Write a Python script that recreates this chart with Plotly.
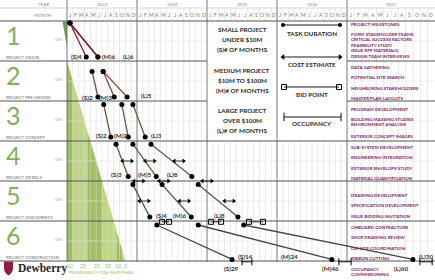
import plotly.graph_objects as go

# ---------------- data ----------------
years = ["2023", "2024", "2025", "2026", "2027"]
month_letters = ["J", "F", "M", "A", "M", "J", "J", "A", "S", "O", "N", "D"]
phase_numbers = ["1", "2", "3", "4", "5", "6"]
phase_names = ["PROJECT VISION", "PROJECT PRE-DESIGN", "PROJECT CONCEPT",
               "PROJECT DETAILS", "PROJECT DOCUMENTS", "PROJECT CONSTRUCTION"]
fee_pct = [10, 25, 25, 25, 10, 5]

# month positions (months after Jan 2023) of each phase start / end dot
small_start = [0.5, 4.3, 6.3, 8.4, 11.3, 15.4]
small_end = [3.3, 5.3, 7.5, 10.5, 14.2, 28.3]
medium_start = [0.5, 6.2, 9.4, 11.3, 16.3, 22.5]
medium_end = [5.3, 8.1, 10.5, 15.3, 21.3, 45.4]
large_start = [0.5, 6.2, 11.3, 14.4, 22.5, 30.3]
large_end = [5.3, 10.3, 13.4, 21.4, 29.3, 59.3]

small_months = [4, 2, 2, 3, 4, 14]
medium_months = [6, 3, 2, 5, 6, 24]
large_months = [6, 5, 3, 8, 8, 30]

cost_p4_mid = [10.3, 14.2, 19.2]
cost_p5_top = [12.3, 16.6, 24.0]
cost_p5_mid = [13.2, 20.1, 27.8]
bid_small = [16.3, 17.5]
bid_medium = [24.7, 26.4]
bid_large = [31.2, 33.6]
occ_small = [30.0, 31.7]
occ_medium = [46.6, 48.7]
occ_large = [60.5, 62.6]

milestones = [
    ["PROJECT MILESTONES:", "FORM STAKEHOLDER TEAMS", "CRITICAL SUCCESS FACTORS",
     "FEASIBILITY STUDY", "ISSUE RFP MATERIALS", "DESIGN TEAM INTERVIEWS"],
    ["DATA GATHERING", "POTENTIAL SITE SEARCH", "NEIGHBORING STAKEHOLDERS", "MASTER PLAN LAYOUTS"],
    ["PROGRAM DEVELOPMENT", "BUILDING MASSING STUDIES", "ENVIRONMENT ANALYSIS", "EXTERIOR CONCEPT IMAGES"],
    ["SUB-SYSTEM DEVELOPMENT", "ENGINEERING INTEGRATION", "EXTERIOR ENVELOPE STUDY", "MATERIAL QUANTIFICATION"],
    ["DRAWING DEVELOPMENT", "SPECIFICATION DEVELOPMENT", "ISSUE BIDDING INVITATION"],
    ["ONBOARD CONTRACTORS", "SHOP DRAWING REVIEW", "ON-SITE COORDINATION", "RIBBON CUTTING",
     "OCCUPANCY", "COMMISSIONING"],
]

# ---------------- layout helpers ----------------
W, H = 435, 280
X0, MW = 67.0, 70.0 / 12
Y0, RH = 21.0, 40.0


def xm(px):
    return (px - X0) / MW


def yr(py):
    return (py - Y0) / RH


def xp(m):
    return X0 + m * MW


FONT = "Lato"
GREEN = "#7fb05c"
PURPLE = "#7d2463"
DARK = "#2b2b2b"
GRAY = "#8a8a8a"

shapes = []
annotations = []


def line_px(x0, y0, x1, y1, color, w):
    shapes.append(dict(type="line", xref="x", yref="y", x0=xm(x0), y0=yr(y0), x1=xm(x1), y1=yr(y1),
                       line=dict(color=color, width=w), layer="below"))


def text_px(t, x, y, size, color, bold=False, anchor="center", family=FONT):
    annotations.append(dict(x=xm(x), y=yr(y), xref="x", yref="y", text=("<b>%s</b>" % t) if bold else t,
                            showarrow=False, xanchor=anchor, yanchor="middle",
                            font=dict(size=size, color=color, family=family)))


# ---------- green fee area (below grid) ----------
GREEN_L = "#bfd685"
GREEN_D = "#9fbf62"
cum = [0]
for p in fee_pct:
    cum.append(cum[-1] + p)
fee_width = 10.0  # months spanned by 100% at the bottom


def hyp_y(m):  # row where hypotenuse reaches month m
    return 1.0 + 5.0 * m / fee_width


for i in range(len(fee_pct)):
    a = cum[i] / 100 * fee_width
    b = cum[i + 1] / 100 * fee_width
    col = GREEN_D if i % 2 == 0 else GREEN_L
    path = "M %f,%f L %f,%f L %f,6 L %f,6 Z" % (a, hyp_y(a), b, hyp_y(b), b, a)
    shapes.append(dict(type="path", xref="x", yref="y", path=path, fillcolor=col,
                       line=dict(width=0), layer="below"))
# small sliver in phase 1
shapes.append(dict(type="path", xref="x", yref="y",
                   path="M %f,%f L 0,%f L 0,%f Z" % (xm(62.5), yr(21.5), yr(21.5), yr(47)),
                   fillcolor="#6f9c4a", line=dict(width=0), layer="below"))

# ---------- grid ----------
for yi in range(4):
    for m in range(1, 12):
        x = 12 * yi + m
        shapes.append(dict(type="line", xref="x", yref="y", x0=x, x1=x, y0=yr(8), y1=yr(262),
                           line=dict(color="#dcdcdc", width=0.6), layer="below"))
w27 = (W - xp(48)) / 12
for m in range(1, 12):
    px = xp(48) + m * w27
    line_px(px, 8, px, 262, "#dcdcdc", 0.6)
for k in range(6):
    line_px(X0, Y0 + RH * (k + 0.5), W, Y0 + RH * (k + 0.5), "#e4e4e4", 0.6)

# white box (project size key + legend)
shapes.append(dict(type="rect", xref="x", yref="y", x0=xm(207), x1=xm(347), y0=yr(21), y1=yr(142),
                   fillcolor="white", line=dict(width=0), layer="below"))

for yi in range(5):
    line_px(xp(12 * yi), 0, xp(12 * yi), 262, "#6a6a6a", 0.9)
line_px(0, 8, W, 8, "#bdbdbd", 0.6)
line_px(0, 21, W, 21, "#555555", 1)
for k in range(1, 7):
    y = Y0 + RH * k
    if k in (1, 2):
        line_px(0, y, 207, y, "#555555", 1)
        line_px(347, y, W, y, "#555555", 1)
    else:
        line_px(0, y, W, y, "#555555", 1)

# ---------- header text ----------
text_px("YEAR", 43, 4, 4.5, GRAY)
text_px("MONTH", 43, 15, 4.5, GRAY)
for yi, yname in enumerate(years):
    if yi < 4:
        text_px(yname, xp(12 * yi + 6), 4, 4.5, GRAY)
        for m, ml in enumerate(month_letters):
            text_px(ml, xp(12 * yi + m + 0.5), 15, 5, "#777777")
    else:
        text_px(yname, xp(48) + 6 * w27, 4, 4.5, GRAY)
        for m, ml in enumerate(month_letters):
            text_px(ml, xp(48) + (m + 0.5) * w27, 15, 5, "#777777")

# ---------- left column ----------
for k in range(6):
    top = Y0 + RH * k
    text_px(phase_numbers[k], 13, top + 14, 25, GREEN)
    text_px(phase_names[k], 4, top + 36.5, 4.3, "#666666", anchor="left")
    text_px("50%", 64, top + 18.5, 3.6, "#aaaaaa", anchor="right")

# ---------- project size key ----------
key_lines = [("SMALL PROJECT", 29), ("UNDER $10M", 39), ("(S)# OF MONTHS", 49),
             ("MEDIUM PROJECT", 70), ("$10M TO $100M", 80), ("(M)# OF MONTHS", 90),
             ("LARGE PROJECT", 110), ("OVER $100M", 120), ("(L)# OF MONTHS", 130)]
for t, y in key_lines:
    text_px(t, 242, y, 6.3, DARK, bold=True)

# ---------- legend ----------
text_px("TASK DURATION", 312, 33, 6.3, DARK, bold=True)
text_px("COST ESTIMATE", 312, 64, 6.3, DARK, bold=True)
text_px("BID POINT", 312, 94, 6.3, DARK, bold=True)
text_px("OCCUPANCY", 312, 123, 6.3, DARK, bold=True)

# ---------- milestones ----------
ms_y = [[24, 34, 39.5, 45, 50.5, 56], [67, 77.5, 88, 98], [109, 119.5, 124.5, 136],
        [147, 157.5, 168, 178.5], [195, 205.5, 216.5], [227, 237.5, 248, 258.5, 269, 274.5]]
for k in range(6):
    for t, y in zip(milestones[k], ms_y[k]):
        text_px(t, 349, y, 4.5, PURPLE, bold=True, anchor="left")

# ---------- fee axis ----------
fee_label_x = [70, 83, 97, 108, 118, 125]
for p, x in zip(fee_pct, fee_label_x):
    text_px(str(p), x, 266, 5, "#8fbf5a")
text_px("PERCENTAGE OF TOTAL FEE BY PHASE", 67, 272.5, 3.6, "#8fbf5a", anchor="left")

# ---------- logo ----------
shapes.append(dict(type="path", xref="x", yref="y",
                   path="M %f,%f L %f,%f L %f,%f Q %f,%f %f,%f Q %f,%f %f,%f Z" % (
                       xm(4), yr(261.5), xm(13), yr(261.5), xm(13), yr(268),
                       xm(13), yr(273), xm(8.5), yr(275.5),
                       xm(4), yr(273), xm(4), yr(268)),
                   fillcolor="#8c1f3d", line=dict(width=0), layer="above"))
text_px("Dewberry", 16, 268, 11.5, "#222222", bold=True, anchor="left", family="Liberation Serif")

# ---------- timeline traces ----------
fig = go.Figure()
phase_colors = ["#7c2237", "#7a4b3c", "#6d5a41", "#5d6046", "#52564a", "#474747"]
start_frac = [0.05, 0.26, 0.09, 0.08, 0.09, 0.1]
end_frac = [0.9, 0.9, 0.9, 0.89, 0.9, 0.96]
series = [(small_start, small_end), (medium_start, medium_end), (large_start, large_end)]
for k in range(6):
    xs, ys = [], []
    for st, en in series:
        xs += [st[k], en[k], None]
        ys += [k + start_frac[k], k + end_frac[k], None]
    fig.add_trace(go.Scatter(x=xs, y=ys, mode="lines", line=dict(color=phase_colors[k], width=1.3),
                             hoverinfo="skip", showlegend=False))
dx, dy = [], []
for st, en in series:
    for k in range(6):
        dx += [st[k], en[k]]
        dy += [k + start_frac[k], k + end_frac[k]]
fig.add_trace(go.Scatter(x=dx, y=dy, mode="markers", marker=dict(color="black", size=5),
                         hoverinfo="skip", showlegend=False))


def arrow_pair(xc, yc, half=0.8):
    fig.add_trace(go.Scatter(x=[xc - half, xc + half], y=[yc, yc], mode="lines+markers",
                             line=dict(color="black", width=0.8),
                             marker=dict(symbol=["triangle-left", "triangle-right"], size=4.5, color="black"),
                             hoverinfo="skip", showlegend=False))


for x in cost_p4_mid:
    arrow_pair(x, 3.5)
for x in cost_p5_top:
    arrow_pair(x, 4.0)
for x in cost_p5_mid:
    arrow_pair(x, 4.5)

for pair in (bid_small, bid_medium, bid_large):
    fig.add_trace(go.Scatter(x=pair, y=[5.02, 5.02], mode="lines+markers",
                             line=dict(color="black", width=0.8),
                             marker=dict(symbol="square-open", size=5, color="black", line=dict(width=1)),
                             hoverinfo="skip", showlegend=False))
for pair in (occ_small, occ_medium, occ_large):
    fig.add_trace(go.Scatter(x=pair, y=[6.02, 6.02], mode="lines+markers",
                             line=dict(color="black", width=0.9),
                             marker=dict(symbol="line-ns-open", size=5, color="black", line=dict(width=1)),
                             hoverinfo="skip", showlegend=False))

# legend glyphs (2026 column)
fig.add_trace(go.Scatter(x=[xm(283), xm(340)], y=[yr(25), yr(25)], mode="lines+markers",
                         line=dict(color="black", width=0.9), marker=dict(color="black", size=4),
                         hoverinfo="skip", showlegend=False))
fig.add_trace(go.Scatter(x=[xm(283), xm(340)], y=[yr(57), yr(57)], mode="lines+markers",
                         line=dict(color="black", width=0.9),
                         marker=dict(symbol=["triangle-left", "triangle-right"], size=5, color="black"),
                         hoverinfo="skip", showlegend=False))
fig.add_trace(go.Scatter(x=[xm(284), xm(339)], y=[yr(87), yr(87)], mode="lines+markers",
                         line=dict(color="black", width=0.9),
                         marker=dict(symbol="square-open", size=5, color="black", line=dict(width=1)),
                         hoverinfo="skip", showlegend=False))
fig.add_trace(go.Scatter(x=[xm(284), xm(341)], y=[yr(117), yr(117)], mode="lines+markers",
                         line=dict(color="black", width=0.9),
                         marker=dict(symbol="line-ns-open", size=6, color="black", line=dict(width=1)),
                         hoverinfo="skip", showlegend=False))

# ---------- duration labels ----------
lab_pos = {
    "S": [(76, 56), (87, 97), (101, 135), (116, 174), (161, 215)],
    "M": [(108, 56), (105, 97), (120, 135), (144, 174), (179, 215)],
    "L": [(128, 56), (146, 95), (156, 135), (172, 174), (219, 215)],
}
for key, vals in (("S", small_months), ("M", medium_months), ("L", large_months)):
    for k in range(5):
        x, y = lab_pos[key][k]
        text_px("(%s)%d" % (key, vals[k]), x, y, 6.3, "#333333", bold=True)

occ_lab = [(245, 256.5), (289, 256.5), (426, 256.5)]
tot_lab = [(231, 268.5), (330, 268.5), (401, 268.5)]
for key, vals, ol, tl in (("S", small_months, occ_lab[0], tot_lab[0]),
                          ("M", medium_months, occ_lab[1], tot_lab[1]),
                          ("L", large_months, occ_lab[2], tot_lab[2])):
    text_px("(%s)%d" % (key, vals[5]), ol[0], ol[1], 6.3, "#333333", bold=True)
    text_px("(%s)%d" % (key, sum(vals)), tl[0], tl[1], 6.3, "#333333", bold=True)

fig.update_layout(
    width=W, height=H, margin=dict(l=0, r=0, t=0, b=0),
    paper_bgcolor="white", plot_bgcolor="white",
    xaxis=dict(range=[xm(0), xm(W)], visible=False, fixedrange=True),
    yaxis=dict(range=[yr(H), yr(0)], visible=False, fixedrange=True),
    shapes=shapes, annotations=annotations, showlegend=False,
)
fig.write_html("out.html", config={"displayModeBar": False},
               post_script="document.body.style.margin='0';document.body.style.padding='0';")
